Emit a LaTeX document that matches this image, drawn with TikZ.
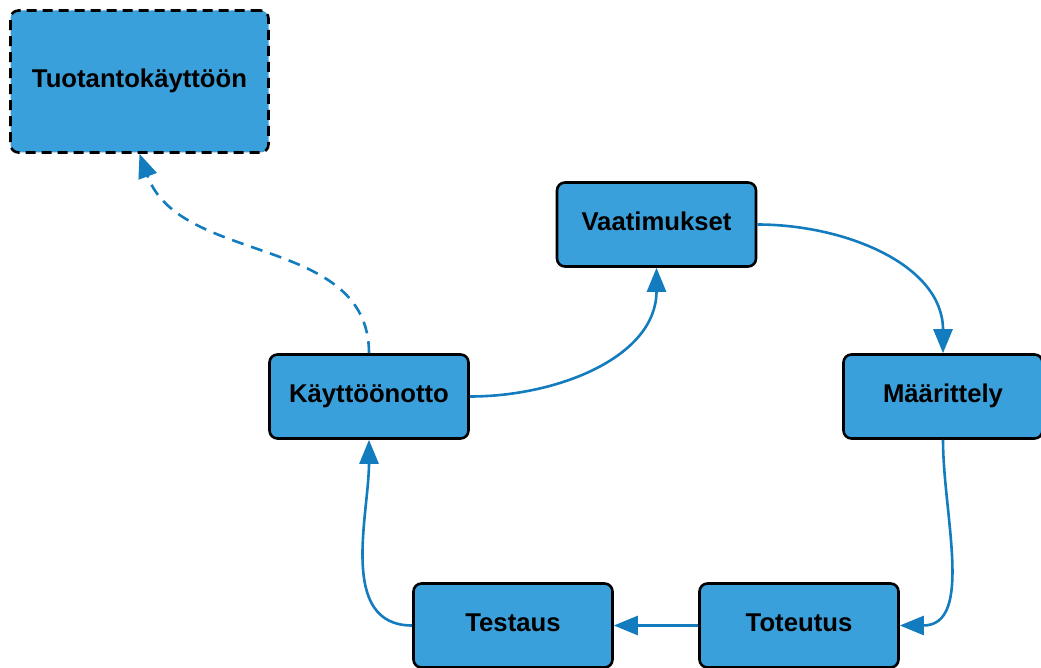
\documentclass[tikz,border=0pt]{standalone}
\usepackage{fontspec}
\setmainfont{Liberation Sans}
\usetikzlibrary{arrows.meta}
\definecolor{boxfill}{RGB}{58,160,219}
\definecolor{linkcol}{RGB}{18,124,190}
\begin{document}
\begin{tikzpicture}[x=1pt,y=-1pt,
  phase/.style={draw=black,fill=boxfill,line width=2.6pt,rounded corners=8pt,
    minimum width=199pt,minimum height=84pt,inner sep=0pt,
    text height=19pt,text depth=7pt,
    font=\fontsize{25.7}{30}\selectfont\bfseries},
  link/.style={draw=linkcol,line width=2.6pt,-{Triangle[length=24pt,width=19pt]}}]
\useasboundingbox (0,0) rectangle (1041,668);
\node[phase,dashed,dash pattern=on 10pt off 6pt,minimum width=258pt,minimum height=142pt] (tuo) at (139.5,81.5) {Tuotantokäyttöön};
\node[phase] (vaa) at (656.5,224.5) {Vaatimukset};
\node[phase] (maa) at (943,396.5) {Määrittely};
\node[phase] (kay) at (369,396.5) {Käyttöönotto};
\node[phase] (tes) at (513,625.5) {Testaus};
\node[phase] (tot) at (799,625.5) {Toteutus};
\draw[link] (vaa.east) to[out=0,in=90] (maa.north);
\draw[link] (maa.south) to[out=-90,in=0] (tot.east);
\draw[link] (tot.west) -- (tes.east);
\draw[link] (tes.west) to[out=180,in=-90] (kay.south);
\draw[link] (kay.east) to[out=0,in=-90] (vaa.south);
\draw[link,dash pattern=on 12pt off 8pt] (kay.north) to[out=90,in=-70] (tuo.south);
\end{tikzpicture}
\end{document}
